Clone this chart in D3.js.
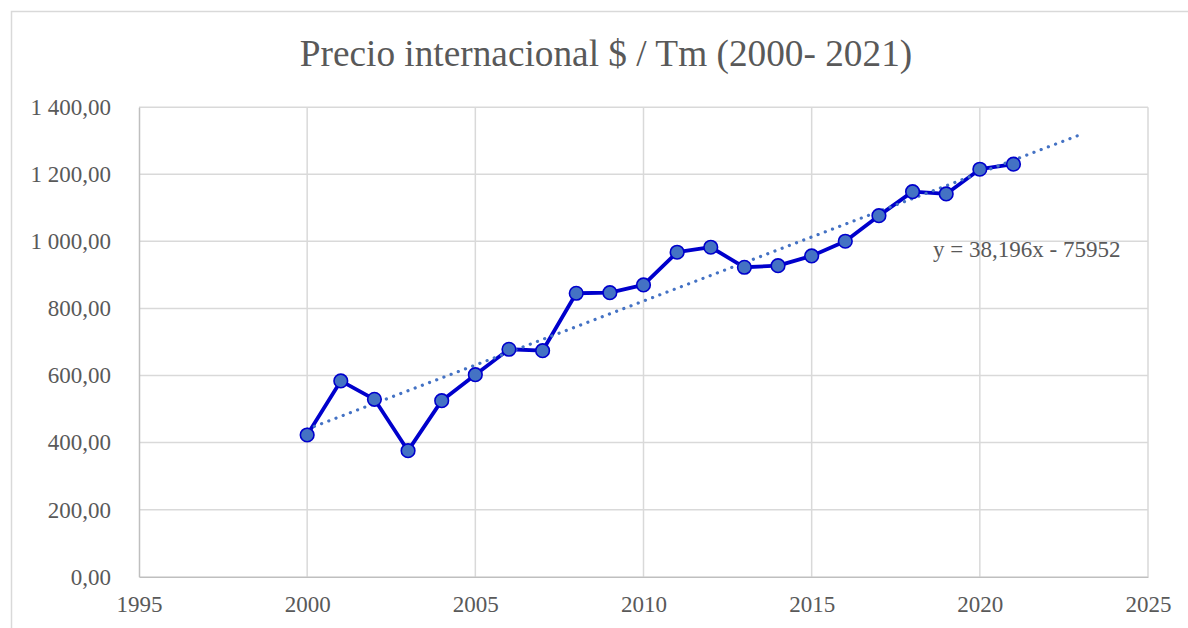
<!DOCTYPE html>
<html><head><meta charset="utf-8">
<script src="https://cdn.jsdelivr.net/npm/d3@7"></script>
<style>html,body{margin:0;padding:0;background:#fff;}svg{display:block;}</style>
</head><body>
<script>
const years = [2000,2001,2002,2003,2004,2005,2006,2007,2008,2009,2010,2011,2012,2013,2014,2015,2016,2017,2018,2019,2020,2021];
const prices = [422.6,583.7,529,375.8,524.9,602.4,678.2,674,845.2,847,870,967.5,982.4,922.7,927.5,956.5,1000.3,1076.6,1148.2,1141.4,1215,1230];
const xTicks = [1995,2000,2005,2010,2015,2020,2025];
const yTicks = [0,200,400,600,800,1000,1200,1400];
const trendSlope = 38.196, trendIntercept = -75952;
const trendRange = [2000, 2023];
const title = "Precio internacional $ / Tm (2000- 2021)";
const eqLabel = "y = 38,196x - 75952";

const W = 1188, H = 628;
const svg = d3.select("body").append("svg").attr("width", W).attr("height", H);
const font = "'Liberation Serif','Times New Roman',serif";
const txt = "#595959";

svg.append("rect").attr("x",11.5).attr("y",11.5).attr("width",1300).attr("height",800)
  .attr("fill","none").attr("stroke","#D9D9D9").attr("stroke-width",1.5);

const x = d3.scaleLinear().domain([1995,2025]).range([139,1148]);
const y = d3.scaleLinear().domain([0,1400]).range([576.7,107.2]);

svg.append("text").attr("x",606).attr("y",66).attr("text-anchor","middle")
  .attr("font-family",font).attr("font-size",37.3).attr("fill",txt).text(title);

// grid
const g = svg.append("g");
g.selectAll(".hg").data(yTicks.filter(d=>d>0)).join("line")
  .attr("x1",x(1995)).attr("x2",x(2025)).attr("y1",d=>y(d)).attr("y2",d=>y(d))
  .attr("stroke","#D9D9D9").attr("stroke-width",1.5);
g.selectAll(".vg").data(xTicks.filter(d=>d>1995)).join("line")
  .attr("x1",d=>x(d)).attr("x2",d=>x(d)).attr("y1",y(0)).attr("y2",y(1400))
  .attr("stroke","#D9D9D9").attr("stroke-width",1.5);

// axes
const fmt = v => { const s = d3.format(",.2f")(v); return s.replace(/,/g," ").replace(".",","); };
const yAxis = d3.axisLeft(y).tickValues(yTicks).tickFormat(fmt).tickSize(0).tickPadding(28);
const ya = svg.append("g").attr("transform",`translate(${x(1995)},0)`).call(yAxis);
ya.select(".domain").attr("stroke","#BFBFBF").attr("stroke-width",1.5);
ya.selectAll("text").attr("font-family",font).attr("font-size",23).attr("fill",txt).attr("dy","0.32em");

const xAxis = d3.axisBottom(x).tickValues(xTicks).tickFormat(d3.format("d")).tickSize(0).tickPadding(19);
const xa = svg.append("g").attr("transform",`translate(0,${y(0)})`).call(xAxis);
xa.select(".domain").attr("stroke","#BFBFBF").attr("stroke-width",1.5);
xa.selectAll("text").attr("font-family",font).attr("font-size",23).attr("fill",txt);

// series line
const pts = years.map((yr,i)=>[yr,prices[i]]);
svg.append("path").datum(pts)
  .attr("d", d3.line().x(d=>x(d[0])).y(d=>y(d[1])))
  .attr("fill","none").attr("stroke","#0000CC").attr("stroke-width",3.8).attr("stroke-linejoin","round");

// trend line
const tr = trendRange.map(t=>[t, trendSlope*t + trendIntercept]);
svg.append("path").datum(tr)
  .attr("d", d3.line().x(d=>x(d[0])).y(d=>y(d[1])))
  .attr("fill","none").attr("stroke","#4472C4").attr("stroke-width",3.2)
  .attr("stroke-linecap","round").attr("stroke-dasharray","0.1 7.6");

// markers
svg.selectAll(".mk").data(pts).join("circle")
  .attr("cx",d=>x(d[0])).attr("cy",d=>y(d[1])).attr("r",6.8)
  .attr("fill","#4472C4").attr("stroke","#0000CC").attr("stroke-width",1.6);

svg.append("text").attr("x",933).attr("y",257).attr("font-family",font)
  .attr("font-size",23).attr("fill",txt).text(eqLabel);
</script>
</body></html>
